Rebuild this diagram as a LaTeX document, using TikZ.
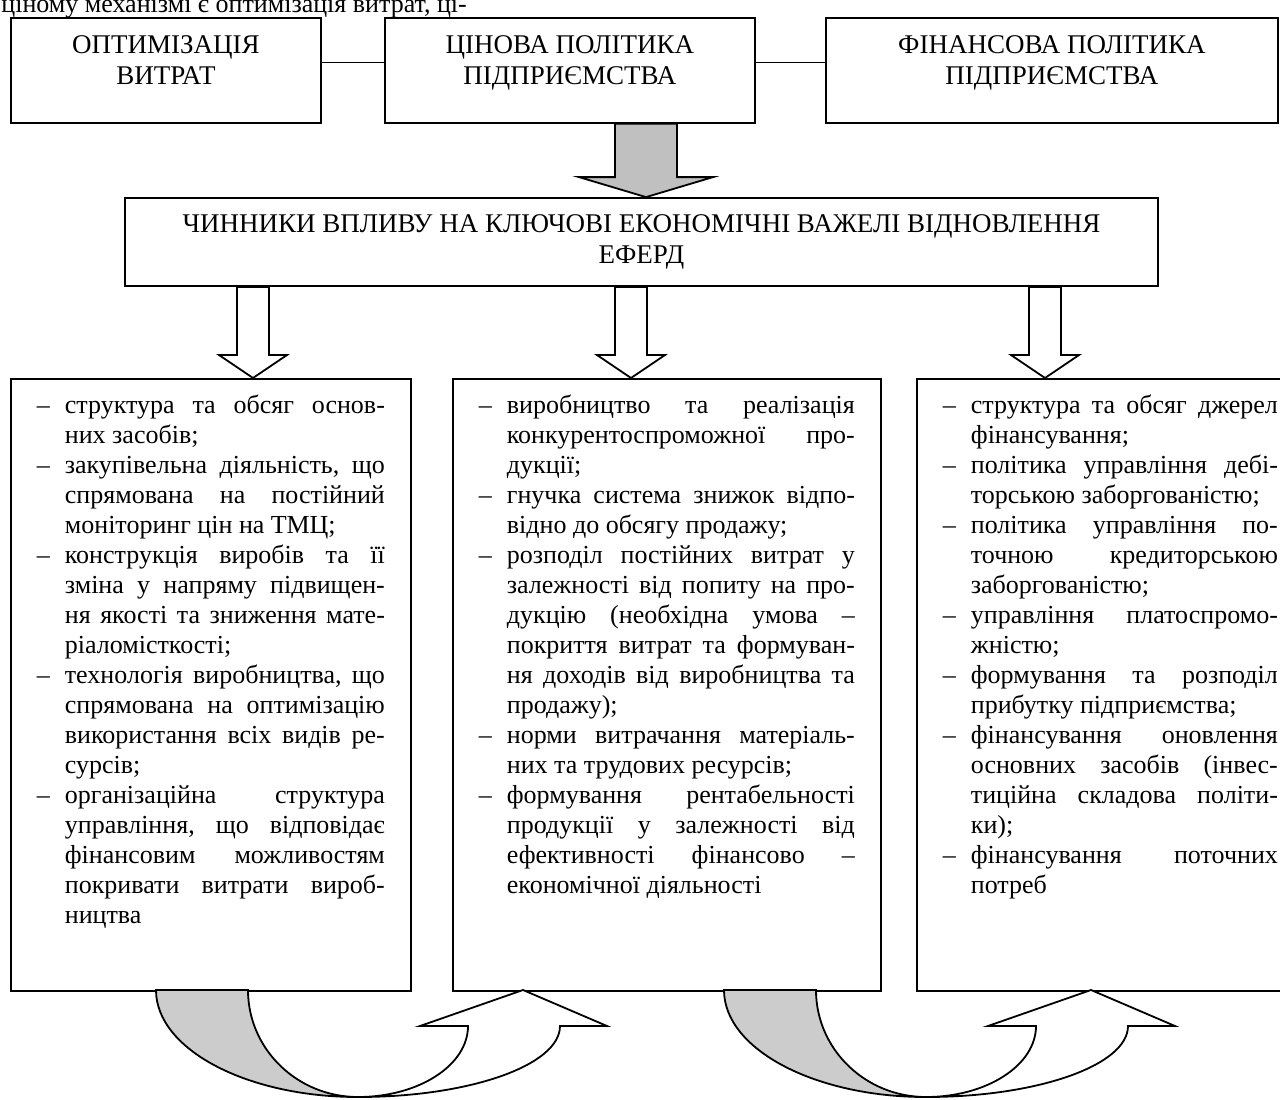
\documentclass[tikz,border=0pt]{standalone}
\usepackage{fontspec}
\setmainfont{Liberation Serif}
\usetikzlibrary{calc}

\definecolor{arrowgray}{RGB}{192,192,192}
\definecolor{bandgray}{RGB}{204,204,204}
\newcommand{\headfont}{\fontsize{13.5}{15.5}\selectfont}
\tikzstyle{titlebox} = [rectangle, draw=black, line width=0.9pt, inner sep=0pt, anchor=north west,
                        font=\headfont]
\tikzstyle{mainbox} = [rectangle, draw=black, line width=0.9pt, align=center, font=\headfont,
                       minimum width=516.5pt, minimum height=44pt, inner sep=0pt]
\tikzstyle{listbox} = [rectangle, draw=black, line width=0.9pt, inner xsep=13pt,
                       inner ysep=0pt, anchor=north west]
\tikzstyle{link} = [line width=0.9pt]
\tikzstyle{grayarrow} = [draw=black, line width=0.9pt, fill=arrowgray]
\tikzstyle{whitearrow} = [draw=black, line width=0.9pt, fill=white]
\tikzstyle{bandback} = [draw=black, line width=0.9pt, fill=bandgray]
\tikzstyle{bandfront} = [draw=black, line width=0.9pt, fill=white]

\hyphenpenalty=10000
\exhyphenpenalty=10000
\tolerance=10000
\frenchspacing

\newcommand{\headtext}[2]{\parbox[c][52.5pt][t]{#1}{\centering\vspace*{7pt}\strut #2}}
\newcommand{\listtext}[2]{\parbox[c][306pt][t]{#1}{\vspace*{7pt}#2}}
\newcommand{\itm}{\par\noindent\hangindent=14pt\hangafter=1\makebox[14pt][l]{–}\strut}

% block arrow pointing down: style, x coordinate, from node, to node, half shaft, half head, head length
\newcommand{\blockdown}[7]{%
  \draw[#1] ($(#2 |- #3.south)+(-#5,0)$) -- ($(#2 |- #4.north)+(-#5,-#7)$)
    -- ($(#2 |- #4.north)+(-#6,-#7)$) -- (#2 |- #4.north)
    -- ($(#2 |- #4.north)+(#6,-#7)$) -- ($(#2 |- #4.north)+(#5,-#7)$)
    -- ($(#2 |- #3.south)+(#5,0)$) -- cycle;}

% curved u-turn arrow under the lists
\newcommand{\uturn}[1]{%
  \begin{scope}[shift={(#1)}]
    \draw[bandback] (0,0) arc[start angle=180, end angle=90, x radius=202, y radius=107]
      arc[start angle=90, end angle=180, x radius=110, y radius=107] -- cycle;
    \draw[bandfront] (202,107) arc[start angle=90, end angle=0, x radius=202, y radius=71]
      -- (451,36) -- (367,0) -- (264,36) -- (312,36)
      arc[start angle=0, end angle=90, x radius=110, y radius=71] -- cycle;
  \end{scope}}

\begin{document}
\begin{tikzpicture}[x=0.5pt, y=-0.5pt, font=\fontsize{13}{15}\selectfont]
  \useasboundingbox (0,0) rectangle (1280,1099);
  \clip (0,0) rectangle (1280,1099);

  % line of the page cut at the top
  \node (intro) [anchor=base west, inner sep=0pt] at (1,12) {ціному механізмі є оптимізація витрат, ці-};

  % policies
  \node (optim) [titlebox] at (10,17) {\headtext{155pt}{ОПТИМІЗАЦІЯ\\ВИТРАТ}};
  \node (pricepol) [titlebox] at (384,17) {\headtext{185pt}{ЦІНОВА ПОЛІТИКА\\ПІДПРИЄМСТВА}};
  \node (finpol) [titlebox] at (825,17) {\headtext{226pt}{ФІНАНСОВА ПОЛІТИКА\\ПІДПРИЄМСТВА}};
  \draw [link] ([yshift=4pt]optim.east) -- ([yshift=4pt]pricepol.west);
  \draw [link] ([yshift=4pt]pricepol.east) -- ([yshift=4pt]finpol.west);

  \node (factors) [mainbox] at (641.5,242) {ЧИННИКИ ВПЛИВУ НА КЛЮЧОВІ ЕКОНОМІЧНІ ВАЖЕЛІ ВІДНОВЛЕННЯ\\ЕФЕРД};

  % factor lists
  \node (costlist) [listbox] at (10,378) {\listtext{174pt}{%
    \itm структура та обсяг основ-\linebreak них засобів;
    \itm закупівельна діяльність, що\linebreak спрямована на постійний\linebreak моніторинг цін на ТМЦ;
    \itm конструкція виробів та її\linebreak зміна у напряму підвищен-\linebreak ня якості та зниження мате-\linebreak ріаломісткості;
    \itm технологія виробництва, що\linebreak спрямована на оптимізацію\linebreak використання всіх видів ре-\linebreak сурсів;
    \itm організаційна структура\linebreak управління, що відповідає\linebreak фінансовим можливостям\linebreak покривати витрати вироб-\linebreak ництва}};
  \node (pricelist) [listbox] at (452,378) {\listtext{188pt}{%
    \itm виробництво та реалізація\linebreak конкурентоспроможної про-\linebreak дукції;
    \itm гнучка система знижок відпо-\linebreak відно до обсягу продажу;
    \itm розподіл постійних витрат у\linebreak залежності від попиту на про-\linebreak дукцію (необхідна умова –\linebreak покриття витрат та формуван-\linebreak ня доходів від виробництва та\linebreak продажу);
    \itm норми витрачання матеріаль-\linebreak них та трудових ресурсів;
    \itm формування рентабельності\linebreak продукції у залежності від\linebreak ефективності фінансово –\linebreak економічної діяльності}};
  \node (finlist) [listbox] at (916,378) {\listtext{167.5pt}{%
    \itm структура та обсяг джерел\linebreak фінансування;
    \itm політика управління дебі-\linebreak торською заборгованістю;
    \itm політика управління по-\linebreak точною кредиторською\linebreak заборгованістю;
    \itm управління платоспромо-\linebreak жністю;
    \itm формування та розподіл\linebreak прибутку підприємства;
    \itm фінансування оновлення\linebreak основних засобів (інвес-\linebreak тиційна складова політи-\linebreak ки);
    \itm фінансування поточних\linebreak потреб}};

  % arrows
  \coordinate (g1) at (646,0);
  \coordinate (w1) at (253,0);
  \coordinate (w2) at (631,0);
  \coordinate (w3) at (1045,0);
  \blockdown{grayarrow}{g1}{pricepol}{factors}{31}{67}{20}
  \blockdown{whitearrow}{w1}{factors}{costlist}{16}{34}{23}
  \blockdown{whitearrow}{w2}{factors}{pricelist}{16}{34}{23}
  \blockdown{whitearrow}{w3}{factors}{finlist}{16}{34}{23}

  \uturn{156,990}
  \uturn{724,990}
\end{tikzpicture}
\end{document}
